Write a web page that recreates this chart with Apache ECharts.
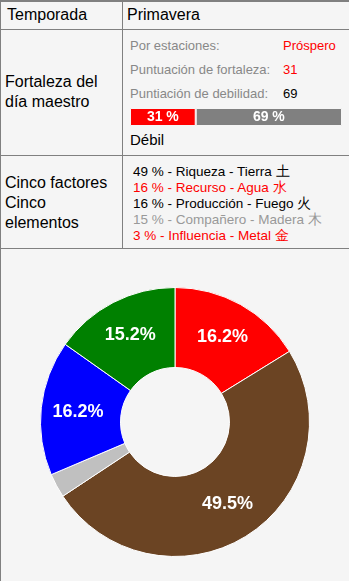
<!DOCTYPE html>
<html>
<head>
<meta charset="utf-8">
<script src="https://cdn.jsdelivr.net/npm/echarts@6/dist/echarts.min.js"></script>
<style>
  html, body { margin: 0; padding: 0; background: #f5f5f5; }
  body { width: 349px; height: 581px; position: relative; overflow: hidden;
         font-family: "Liberation Sans", Arial, sans-serif; color: #000; }
  .ln { position: absolute; background: #808080; }
  .t { position: absolute; white-space: nowrap; }
  .big { font-size: 16px; line-height: 20px; }
  .sm { font-size: 13px; line-height: 16px; }
  .fac { font-size: 13.5px; line-height: 16px; }
  #pie { position: absolute; left: 1px; top: 249px; width: 348px; height: 332px; }
  #strength { position: absolute; left: 130px; top: 108px; width: 212px; height: 18px; }
</style>
</head>
<body>
<!-- table grid -->
<div class="ln" style="left:0;top:0;width:349px;height:2px"></div>
<div class="ln" style="left:0;top:0;width:1px;height:581px"></div>
<div class="ln" style="left:0;top:29px;width:349px;height:1px"></div>
<div class="ln" style="left:0;top:155px;width:349px;height:1px"></div>
<div class="ln" style="left:0;top:248px;width:349px;height:1px"></div>
<div class="ln" style="left:122px;top:0;width:1px;height:248px"></div>

<div class="t big" style="left:7px;top:5px">Temporada</div>
<div class="t big" style="left:127px;top:5px">Primavera</div>

<div class="t big" style="left:5px;top:72px">Fortaleza del<br>día maestro</div>
<div id="info"></div>
<div id="strength"></div>
<div class="t" style="left:130px;top:131px;font-size:15px;line-height:18px">Débil</div>

<div class="t big" style="left:5px;top:173px">Cinco factores<br>Cinco<br>elementos</div>
<div id="factors"></div>

<div id="pie"></div>

<script>
// season / strength info
const infoLabels = ['Por estaciones:', 'Puntuación de fortaleza:', 'Puntiación de debilidad:'];
const infoValues = ['Próspero', '31', '69'];
const infoColors = ['#ff0000', '#ff0000', '#000000'];

// strength vs weakness bar
const strengthParts = ['Fortaleza', 'Debilidad'];
const strengthValues = [31, 69];
const strengthColors = ['#ff0000', '#808080'];

// five factors text list
const factorPercents = [49, 16, 16, 15, 3];
const factorNames = ['Riqueza', 'Recurso', 'Producción', 'Compañero', 'Influencia'];
const factorElements = ['Tierra 土', 'Agua 水', 'Fuego 火', 'Madera 木', 'Metal 金'];
const factorColors = ['#000000', '#ff0000', '#000000', '#999999', '#ff0000'];

// donut slices, clockwise from 12 o'clock
const elementNames = ['Fuego', 'Tierra', 'Metal', 'Agua', 'Madera'];
const elementValues = [16.2, 49.5, 2.9, 16.2, 15.2];
const elementColors = ['#ff0000', '#6b4423', '#c0c0c0', '#0000ff', '#008000'];

// info rows
const info = document.getElementById('info');
infoLabels.forEach((lab, i) => {
  const y = 38 + i * 24;
  info.insertAdjacentHTML('beforeend',
    `<div class="t sm" style="left:130px;top:${y}px;color:#888">${lab}</div>` +
    `<div class="t sm" style="left:283px;top:${y}px;color:${infoColors[i]}">${infoValues[i]}</div>`);
});

// factor rows
const factors = document.getElementById('factors');
factorPercents.forEach((p, i) => {
  const y = 164 + i * 16;
  factors.insertAdjacentHTML('beforeend',
    `<div class="t fac" style="left:133px;top:${y}px;color:${factorColors[i]}">${p} % - ${factorNames[i]} - ${factorElements[i]}</div>`);
});

// stacked strength bar
const bar = echarts.init(document.getElementById('strength'), null, { renderer: 'canvas' });
bar.setOption({
  animation: false,
  grid: { left: 0, right: 0, top: 0, bottom: 0 },
  xAxis: { type: 'value', min: 0, max: 100, show: false },
  yAxis: { type: 'category', data: ['x'], show: false },
  series: strengthParts.map((name, i) => ({
    name, type: 'bar', stack: 's', barWidth: '100%',
    data: [strengthValues[i]],
    itemStyle: { color: strengthColors[i], borderColor: '#f5f5f5', borderWidth: 1 },
    label: { show: true, position: 'inside', color: '#fff', fontWeight: 'bold',
             fontSize: 14, fontFamily: 'Liberation Sans', formatter: '{c} %' }
  }))
});

// donut
const pie = echarts.init(document.getElementById('pie'), null, { renderer: 'canvas' });
pie.setOption({
  animation: false,
  backgroundColor: '#f5f5f5',
  series: [{
    type: 'pie',
    center: [174, 173],
    radius: [54.5, 134.5],
    startAngle: 90,
    clockwise: true,
    data: elementNames.map((n, i) => ({
      name: n, value: elementValues[i],
      itemStyle: { color: elementColors[i] },
      label: { show: elementValues[i] >= 5 }
    })),
    itemStyle: { borderColor: '#ffffff', borderWidth: 1 },
    label: {
      position: 'inside', color: '#ffffff', fontWeight: 'bold', fontSize: 18,
      fontFamily: 'Liberation Sans, Arial, sans-serif',
      formatter: p => p.value.toFixed(1) + '%'
    },
    labelLine: { show: false },
    emphasis: { disabled: true }
  }]
});
</script>
</body>
</html>
